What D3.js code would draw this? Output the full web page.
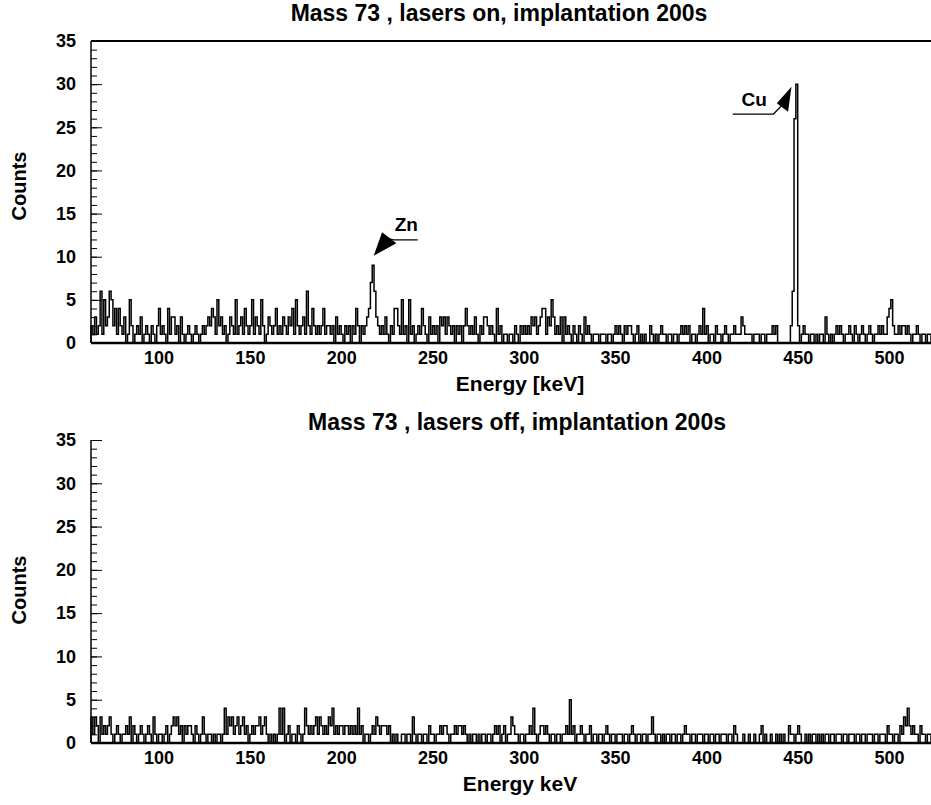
<!DOCTYPE html>
<html>
<head>
<meta charset="utf-8">
<script src="https://cdn.jsdelivr.net/npm/d3@7"></script>
<style>
  body { margin: 0; background: #fff; }
  text { font-family: "Liberation Sans", Arial, sans-serif; font-weight: bold; fill: #000; }
</style>
</head>
<body>
<svg width="931" height="805"></svg>
<script>
// energy of the first bin edge and of the last one (1 keV per bin)
var energyStart = 63, energyEnd = 523;

// counts per 1 keV bin, lasers on (63 ... 522 keV, 20 bins per row)
var countsOn = [
  2,1,3,1,2,6,1,5,2,3,6,5,2,4,1,4,2,1,3,0,
  1,5,2,0,1,2,1,3,0,1,2,1,0,2,1,0,2,4,1,2,
  1,0,4,1,3,3,1,2,0,3,1,0,1,2,1,0,1,2,1,0,
  1,2,1,2,3,2,4,3,1,5,2,3,1,2,0,1,3,2,1,5,
  1,2,3,1,4,2,1,2,5,1,3,2,1,5,2,0,1,3,2,1,
  2,4,1,2,1,3,2,1,3,2,4,1,5,2,1,2,3,1,6,2,
  1,4,2,1,2,1,2,4,1,2,2,1,2,0,3,1,2,1,0,2,
  1,2,0,2,1,4,2,0,2,1,2,3,4,7,9,6,3,2,1,2,
  1,3,1,0,2,1,4,4,2,1,5,1,2,0,5,1,2,0,1,2,
  1,4,2,1,0,3,1,2,1,2,0,3,2,3,1,3,2,1,2,0,
  2,1,2,0,2,4,2,1,2,1,3,1,0,2,1,3,3,2,1,2,
  1,0,4,1,2,0,1,1,0,1,1,0,2,1,0,2,1,2,1,2,
  1,3,2,3,1,2,3,4,4,1,3,2,5,3,1,2,1,3,0,3,
  1,2,1,0,2,1,0,2,1,0,3,1,2,1,0,1,1,1,0,1,
  1,1,0,1,1,0,1,2,1,2,1,0,2,1,2,2,1,0,1,2,
  0,1,0,1,0,0,2,1,0,1,0,1,2,1,1,0,1,1,0,1,
  1,0,1,2,1,2,1,2,0,1,1,0,1,2,1,4,1,2,0,1,
  1,0,2,1,1,0,1,2,1,0,1,1,2,1,1,1,3,2,1,1,
  1,1,0,1,1,1,0,1,1,0,1,1,1,2,1,2,0,0,0,0,
  0,0,0,2,6,26,30,2,0,1,2,1,1,0,1,1,0,1,0,1,
  1,0,3,1,0,1,0,1,2,1,2,1,0,1,1,2,1,0,2,1,
  0,1,2,1,0,1,2,1,0,1,1,2,1,2,1,1,3,4,5,2,
  1,1,2,1,2,2,1,2,1,0,1,1,2,1,0,1,1,0,1,1
];

// counts per 1 keV bin, lasers off
var countsOff = [
  3,1,3,2,0,3,1,2,1,2,3,1,0,1,2,1,0,1,1,2,
  1,3,0,2,1,0,1,2,1,0,1,2,1,0,3,1,0,1,1,0,
  1,2,0,1,2,3,2,3,1,2,0,2,1,2,2,1,0,2,1,0,
  1,3,1,0,1,1,0,1,0,1,1,0,1,4,1,3,2,3,1,2,
  3,1,2,3,1,2,0,1,2,1,2,2,3,1,2,3,1,0,1,0,
  1,0,1,4,1,4,0,1,2,0,1,1,0,2,1,0,1,4,2,1,
  2,1,2,3,1,3,2,1,2,1,3,2,4,1,2,1,2,2,1,2,
  2,1,2,1,2,1,4,1,2,0,1,1,0,1,2,1,3,2,1,2,
  2,2,1,2,0,1,0,1,0,0,1,1,0,1,1,0,3,1,0,1,
  1,0,1,1,0,2,1,1,0,1,1,2,1,2,2,1,0,1,1,2,
  1,2,2,1,2,1,0,1,0,1,1,0,1,0,1,1,0,1,1,0,
  1,2,1,2,0,1,2,0,1,1,3,2,1,1,0,1,1,0,1,1,
  2,1,4,1,0,1,2,2,1,2,1,0,1,1,0,1,1,0,1,1,
  2,1,5,1,2,0,1,1,2,1,0,1,1,2,0,1,1,0,1,1,
  0,1,2,1,0,1,1,0,1,1,1,0,1,1,0,1,2,1,0,1,
  1,0,1,1,0,1,1,3,1,0,1,1,0,1,0,1,1,0,1,1,
  0,1,1,0,1,2,1,1,0,1,1,0,1,1,1,0,1,1,0,1,
  1,0,1,1,0,1,1,1,0,1,1,0,2,1,0,0,0,1,0,0,
  1,0,0,1,0,0,1,2,0,1,0,0,1,0,0,1,0,1,0,1,
  0,0,2,1,1,0,1,2,1,0,0,1,0,1,0,1,1,0,1,0,
  1,0,1,1,0,1,1,0,1,1,1,0,1,1,0,1,1,1,0,1,
  1,0,1,1,0,1,1,1,0,1,1,0,1,1,1,0,2,1,1,0,
  1,1,0,2,1,3,2,4,2,1,2,1,1,0,2,1,1,0,1,1
];

var yMax = 35;
var yTickValues = [0, 5, 10, 15, 20, 25, 30, 35];
var xTickValues = [100, 150, 200, 250, 300, 350, 400, 450, 500];
var panelTitles = ["Mass 73 , lasers on, implantation 200s", "Mass 73 , lasers off, implantation 200s"];
var xTitles = ["Energy [keV]", "Energy keV"];
var yTitle = "Counts";

// peak labels of the top panel: label, energy and height of the arrow tip
var peakNames = ["Zn", "Cu"];
var peakEnergy = [217.8, 446.6];
var peakCount = [10.1, 29.7];

var svg = d3.select("svg");
var left = 91, right = 931;

var panels = [
  { counts: countsOn,  top: 41,  bottom: 343, title: panelTitles[0], xTitle: xTitles[0],
    frameTop: true,  titleX: 499, titleY: 21,  countsY: 186 },
  { counts: countsOff, top: 440, bottom: 743, title: panelTitles[1], xTitle: xTitles[1],
    frameTop: false, titleX: 517, titleY: 430, countsY: 590 }
];

var x = d3.scaleLinear().domain([energyStart, energyEnd]).range([left, right]);

panels.forEach(function(p, k) {
  var y = d3.scaleLinear().domain([0, yMax]).range([p.bottom, p.top]);
  var g = svg.append("g");

  // histogram outline
  var pts = [[energyStart, 0]];
  p.counts.forEach(function(c, i) { pts.push([energyStart + i, c]); });
  pts.push([energyStart + p.counts.length, p.counts[p.counts.length - 1]]);
  pts.push([energyStart + p.counts.length, 0]);

  var line = d3.line()
      .x(function(d) { return x(d[0]); })
      .y(function(d) { return y(d[1]); })
      .curve(d3.curveStepAfter);

  g.append("path")
      .datum(pts)
      .attr("fill", "none")
      .attr("stroke", "#000")
      .attr("stroke-width", 1.5)
      .attr("d", line);

  // minor y ticks (inside)
  g.append("g")
      .attr("transform", "translate(" + left + ",0)")
      .call(d3.axisRight(y).tickValues(d3.range(0, yMax + 1)).tickSize(6).tickFormat(""))
      .call(function(a) { a.select(".domain").remove(); a.selectAll("line").attr("stroke-width", 1); });

  // major y ticks (inside)
  g.append("g")
      .attr("transform", "translate(" + left + ",0)")
      .call(d3.axisRight(y).tickValues(yTickValues).tickSize(11).tickFormat(""))
      .call(function(a) { a.select(".domain").remove(); a.selectAll("line").attr("stroke-width", 1); });

  // y tick labels
  g.append("g")
      .attr("transform", "translate(" + left + ",0)")
      .call(d3.axisLeft(y).tickValues(yTickValues).tickSize(0).tickPadding(15))
      .call(function(a) {
        a.select(".domain").remove();
        a.selectAll("text").attr("font-size", 18).attr("font-family", null);
      });

  // x tick labels
  g.append("g")
      .attr("transform", "translate(0," + p.bottom + ")")
      .call(d3.axisBottom(x).tickValues(xTickValues).tickSize(0).tickPadding(8))
      .call(function(a) {
        a.select(".domain").remove();
        a.selectAll("text").attr("font-size", 18).attr("font-family", null);
      });

  // frame
  g.append("line").attr("x1", left).attr("x2", left).attr("y1", p.top).attr("y2", p.bottom)
      .attr("stroke", "#000").attr("stroke-width", 1.5);
  g.append("line").attr("x1", left).attr("x2", right).attr("y1", p.bottom).attr("y2", p.bottom)
      .attr("stroke", "#000").attr("stroke-width", 2.5);
  if (p.frameTop) {
    g.append("line").attr("x1", left).attr("x2", right).attr("y1", p.top).attr("y2", p.top)
        .attr("stroke", "#000").attr("stroke-width", 2);
  }

  // titles
  g.append("text")
      .attr("x", p.titleX).attr("y", p.titleY)
      .attr("text-anchor", "middle")
      .attr("font-size", 23)
      .text(p.title);

  g.append("text")
      .attr("x", 520).attr("y", p.bottom + 48)
      .attr("text-anchor", "middle")
      .attr("font-size", 21)
      .text(p.xTitle);

  g.append("text")
      .attr("transform", "translate(26," + p.countsY + ")rotate(-90)")
      .attr("text-anchor", "middle")
      .attr("font-size", 20)
      .text(yTitle);

  // peak arrows on the top panel
  if (k === 0) {
    var arrowShapes = [
      // triangle back corners, label line and text, relative to the tip
      { tri: [[8.4, -23.7], [22.7, -12.7]], line: [[15, -17], [20, -16], [44, -16]], text: [21, -25] },
      { tri: [[-14.7, 16.6], [-3.4, 25]], line: [[-8, 17], [-18, 27.3], [-58.7, 27.3]], text: [-50, 19.3] }
    ];
    peakNames.forEach(function(name, i) {
      var tx = x(peakEnergy[i]), ty = y(peakCount[i]);
      var s = arrowShapes[i];
      g.append("polyline")
          .attr("points", s.line.map(function(q) { return (tx + q[0]) + "," + (ty + q[1]); }).join(" "))
          .attr("fill", "none").attr("stroke", "#000").attr("stroke-width", 1.2);
      g.append("polygon")
          .attr("points", [[tx, ty], [tx + s.tri[0][0], ty + s.tri[0][1]], [tx + s.tri[1][0], ty + s.tri[1][1]]]
            .map(function(q) { return q.join(","); }).join(" "))
          .attr("fill", "#000");
      g.append("text")
          .attr("x", tx + s.text[0]).attr("y", ty + s.text[1])
          .attr("font-size", 19)
          .text(name);
    });
  }
});
</script>
</body>
</html>
